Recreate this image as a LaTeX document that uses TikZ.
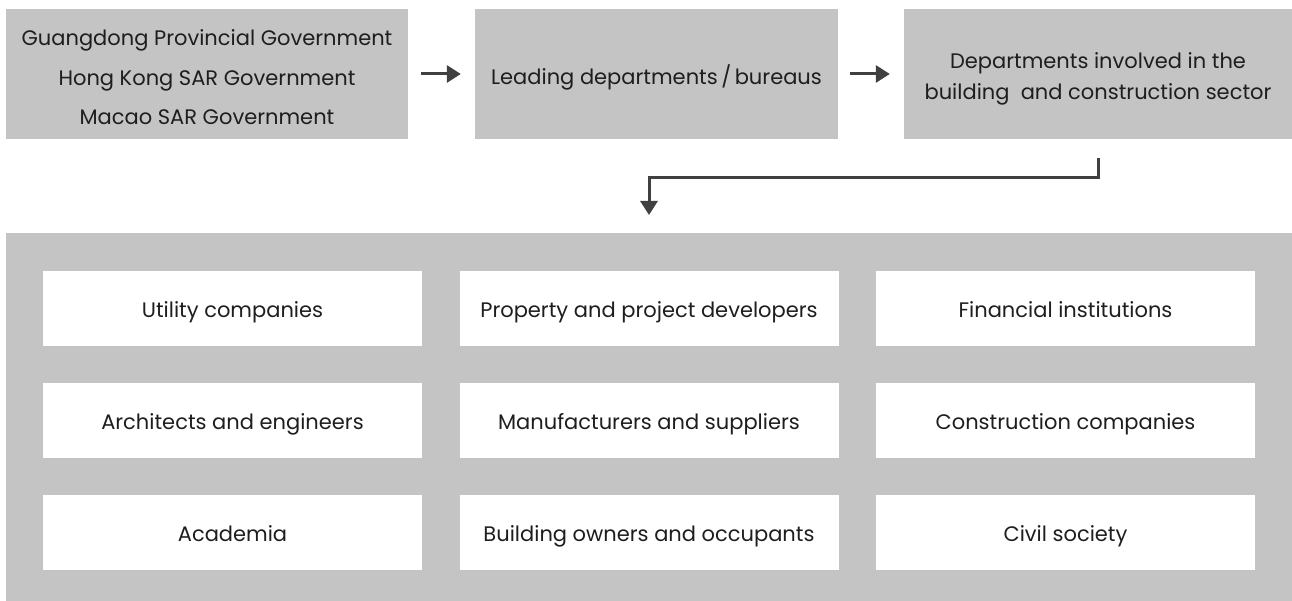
\documentclass[tikz,border=0pt]{standalone}
\usepackage{fontspec}
\setmainfont{Poppins}
\usetikzlibrary{arrows.meta}
\definecolor{panelgray}{HTML}{C4C4C4}
\definecolor{arrowgray}{HTML}{404040}
\definecolor{txt}{HTML}{1E1E1E}
\begin{document}
\begin{tikzpicture}[x=1pt,y=-1pt,
  topbox/.style={fill=panelgray, draw=none, minimum height=130pt, inner sep=0pt, align=center, text=txt},
  cellbox/.style={fill=white, draw=none, minimum width=379pt, minimum height=75pt, inner sep=0pt, text=txt, font=\fontsize{21}{25}\selectfont, text height=17pt, text depth=0pt},
  conn/.style={draw=arrowgray, line width=3pt, -{Triangle[length=14pt,width=17pt]}},
]
\useasboundingbox (0,0) rectangle (1292,601);
% top boxes
\node[topbox, minimum width=402pt, font=\fontsize{21}{39.5}\selectfont, text height=102pt, text depth=0pt] (b1) at (207,74) {Guangdong Provincial Government\\Hong Kong SAR Government\\Macao SAR Government};
\node[topbox, minimum width=363pt, font=\fontsize{21}{25}\selectfont, text height=22pt, text depth=0pt] (b2) at (656.5,74) {Leading departments\,/\,bureaus};
\node[topbox, minimum width=388pt, font=\fontsize{21}{31}\selectfont, text height=52pt, text depth=0pt] (b3) at (1098,74) {Departments involved in the\\building\ \ and construction sector};
% arrows
\draw[conn, shorten <=13pt, shorten >=14pt] (b1.east) -- (b2.west);
\draw[conn, shorten <=12pt, shorten >=14pt] (b2.east) -- (b3.west);
% bottom panel
\node[fill=panelgray, draw=none, minimum width=1286pt, minimum height=368pt, inner sep=0pt] (panel) at (649,417) {};
% connector
\coordinate (cs) at (1098,158);
\coordinate (cm) at (1098,178);
\coordinate (ce) at (649,215);
\draw[conn] (cs) -- (cm) -| (ce);
% cells
\node[cellbox] (c11) at (232.5,308.5) {Utility companies};
\node[cellbox] (c12) at (649,308.5) {Property and project developers};
\node[cellbox] (c13) at (1065.5,308.5) {Financial institutions};
\node[cellbox] (c21) at (232.5,420.5) {Architects and engineers};
\node[cellbox] (c22) at (649,420.5) {Manufacturers and suppliers};
\node[cellbox] (c23) at (1065.5,420.5) {Construction companies};
\node[cellbox] (c31) at (232.5,532.5) {Academia};
\node[cellbox] (c32) at (649,532.5) {Building owners and occupants};
\node[cellbox] (c33) at (1065.5,532.5) {Civil society};
\end{tikzpicture}
\end{document}
